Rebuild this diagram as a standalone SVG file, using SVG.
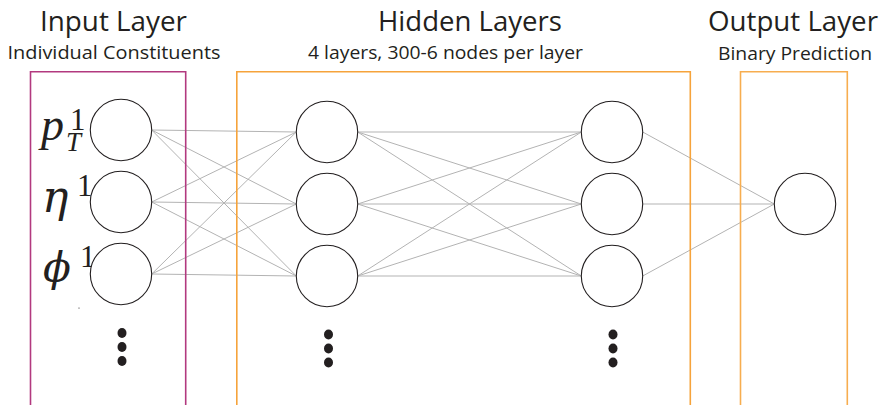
<svg xmlns="http://www.w3.org/2000/svg" width="882" height="405" viewBox="0 0 882 405">
<style>
.bg{fill:#ffffff}
.title{font-family:"Open Sans","Liberation Sans",sans-serif;font-size:28px;fill:#231f20;text-anchor:middle}
.sub{font-family:"Open Sans","Liberation Sans",sans-serif;font-size:18.5px;fill:#231f20;text-anchor:middle}
.math{font-family:"Liberation Serif","DejaVu Serif",serif;fill:#231f20}
.greek{font-family:"DejaVu Serif","Liberation Serif",serif;font-style:italic}
.it{font-style:italic}
.sup{font-family:"Liberation Serif","DejaVu Serif",serif;font-style:normal;font-size:31px}
.node{fill:#ffffff;stroke:#231f20;stroke-width:1.1}
.edge{stroke:#b3b3b3;stroke-width:1;fill:none}
.box{fill:none;stroke-width:1.6}
.dot{fill:#231f20}
</style>
<rect class="bg" x="0" y="0" width="882" height="405"/>

<g id="connectors">
  <line class="edge" x1="151.7" y1="130" x2="296.3" y2="132"/>
  <line class="edge" x1="151.7" y1="130" x2="296.3" y2="204"/>
  <line class="edge" x1="151.7" y1="130" x2="296.3" y2="276"/>
  <line class="edge" x1="151.7" y1="202" x2="296.3" y2="132"/>
  <line class="edge" x1="151.7" y1="202" x2="296.3" y2="204"/>
  <line class="edge" x1="151.7" y1="202" x2="296.3" y2="276"/>
  <line class="edge" x1="151.7" y1="274" x2="296.3" y2="132"/>
  <line class="edge" x1="151.7" y1="274" x2="296.3" y2="204"/>
  <line class="edge" x1="151.7" y1="274" x2="296.3" y2="276"/>
  <line class="edge" x1="357.7" y1="132" x2="581.3" y2="132"/>
  <line class="edge" x1="357.7" y1="132" x2="581.3" y2="204"/>
  <line class="edge" x1="357.7" y1="132" x2="581.3" y2="276"/>
  <line class="edge" x1="357.7" y1="204" x2="581.3" y2="132"/>
  <line class="edge" x1="357.7" y1="204" x2="581.3" y2="204"/>
  <line class="edge" x1="357.7" y1="204" x2="581.3" y2="276"/>
  <line class="edge" x1="357.7" y1="276" x2="581.3" y2="132"/>
  <line class="edge" x1="357.7" y1="276" x2="581.3" y2="204"/>
  <line class="edge" x1="357.7" y1="276" x2="581.3" y2="276"/>
  <line class="edge" x1="642.7" y1="132" x2="774.3" y2="204"/>
  <line class="edge" x1="642.7" y1="204" x2="774.3" y2="204"/>
  <line class="edge" x1="642.7" y1="276" x2="774.3" y2="204"/>
</g>

<g id="box-input">
  <path class="box" stroke="#b2397f" d="M30.5,406 V71.8 H185.7 V406"/>
  <text class="title" x="113.5" y="31" textLength="147" lengthAdjust="spacingAndGlyphs">Input Layer</text>
  <text class="sub" x="114" y="58.5" textLength="213" lengthAdjust="spacingAndGlyphs">Individual  Constituents</text>
</g>
<g id="box-hidden">
  <path class="box" stroke="#f6a33b" d="M236.8,406 V71.8 H690.3 V406"/>
  <text class="title" x="470" y="31" textLength="184" lengthAdjust="spacingAndGlyphs">Hidden Layers</text>
  <text class="sub" x="445.5" y="58.5" textLength="275" lengthAdjust="spacingAndGlyphs">4 layers, 300-6 nodes per layer</text>
</g>
<g id="box-output">
  <path class="box" stroke="#f7ad4f" d="M740.5,406 V71.8 H847.3 V406"/>
  <text class="title" x="793" y="31" textLength="170" lengthAdjust="spacingAndGlyphs">Output Layer</text>
  <text class="sub" x="795" y="60" textLength="154" lengthAdjust="spacingAndGlyphs">Binary Prediction</text>
</g>

<g id="input-labels">
  <text class="math" x="41" y="140"><tspan class="it" font-size="46">p</tspan><tspan class="it" font-size="27" x="66" y="151">T</tspan><tspan class="sup" x="70" y="130">1</tspan></text>
  <text class="math" x="42" y="212"><tspan class="greek" font-size="44">η</tspan><tspan class="sup" x="77" y="196">1</tspan></text>
  <text class="math" x="43" y="281"><tspan class="greek" font-size="41">ϕ</tspan><tspan class="sup" x="80" y="267">1</tspan></text>
  <circle class="dot" cx="79" cy="308" r="0.6"/>
</g>

<g id="node-in-1"><circle class="node" cx="121" cy="130" r="30.7"/></g>
<g id="node-in-2"><circle class="node" cx="121" cy="202" r="30.7"/></g>
<g id="node-in-3"><circle class="node" cx="121" cy="274" r="30.7"/></g>
<g id="node-in-more">
  <ellipse class="dot" cx="122" cy="333" rx="4.5" ry="4.9"/>
  <ellipse class="dot" cx="122" cy="347" rx="4.5" ry="4.9"/>
  <ellipse class="dot" cx="122" cy="361" rx="4.5" ry="4.9"/>
</g>

<g id="node-h1-1"><circle class="node" cx="327" cy="132" r="30.7"/></g>
<g id="node-h1-2"><circle class="node" cx="327" cy="204" r="30.7"/></g>
<g id="node-h1-3"><circle class="node" cx="327" cy="276" r="30.7"/></g>
<g id="node-h1-more">
  <ellipse class="dot" cx="328.5" cy="334.5" rx="4.5" ry="4.9"/>
  <ellipse class="dot" cx="328.5" cy="348.5" rx="4.5" ry="4.9"/>
  <ellipse class="dot" cx="328.5" cy="362.5" rx="4.5" ry="4.9"/>
</g>

<g id="node-h2-1"><circle class="node" cx="612" cy="132" r="30.7"/></g>
<g id="node-h2-2"><circle class="node" cx="612" cy="204" r="30.7"/></g>
<g id="node-h2-3"><circle class="node" cx="612" cy="276" r="30.7"/></g>
<g id="node-h2-more">
  <ellipse class="dot" cx="613" cy="334.5" rx="4.5" ry="4.9"/>
  <ellipse class="dot" cx="613" cy="348.5" rx="4.5" ry="4.9"/>
  <ellipse class="dot" cx="613" cy="362.5" rx="4.5" ry="4.9"/>
</g>

<g id="node-out"><circle class="node" cx="805" cy="204" r="30.7"/></g>
</svg>
